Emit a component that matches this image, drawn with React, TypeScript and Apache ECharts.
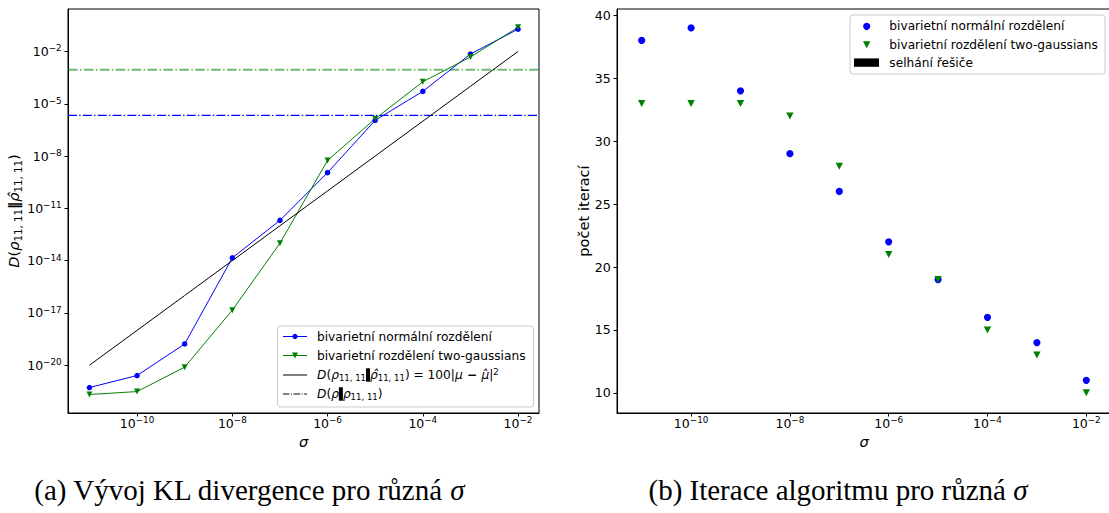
import React, { useEffect, useRef } from 'react';
import * as echarts from 'echarts';

// ---------- data ----------
const sigma = [1e-11, 1e-10, 1e-9, 1e-8, 1e-7, 1e-6, 1e-5, 1e-4, 1e-3, 1e-2];
const klNormal = [5.25e-22, 2.57e-21, 1.66e-19, 1.45e-14, 2.04e-12, 1.12e-9, 1.12e-6, 5.13e-5, 7.08e-3, 0.19];
const klTwoGauss = [2.09e-22, 3.09e-22, 7.76e-21, 1.45e-17, 1.0e-13, 5.62e-9, 1.38e-6, 1.82e-4, 4.79e-3, 0.245];
const klBound = [1e-20, 1e-18, 1e-16, 1e-14, 1e-12, 1e-10, 1e-8, 1e-6, 1e-4, 1e-2];
const klRefNormal = 2.14e-6;
const klRefTwoGauss = 8.9e-4;
const iterNormal = [38, 39, 34, 29, 26, 22, 19, 16, 14, 11];
const iterTwoGauss = [33, 33, 33, 32, 28, 21, 19, 15, 13, 10];
const sigmaTicks = [1e-10, 1e-8, 1e-6, 1e-4, 1e-2];
const klTicks = [1e-20, 1e-17, 1e-14, 1e-11, 1e-8, 1e-5, 1e-2];
const iterTicks = [10, 15, 20, 25, 30, 35, 40];

// axis limits
const sigmaMinA = Math.pow(10, -11.45);
const sigmaMaxA = Math.pow(10, -1.56);
const klMin = Math.pow(10, -22.74);
const klMax = Math.pow(10, 0.436);
const sigmaMinB = Math.pow(10, -11.5);
const sigmaMaxB = Math.pow(10, -1.5);
const iterMin = 8.4;
const iterMax = 40.5;

const nameNormal = 'bivarietní normální rozdělení';
const nameTwoGauss = 'bivarietní rozdělení two-gaussians';
const nameFail = 'selhání řešiče';

const FF = "'DejaVu Sans', sans-serif";
const SERIF = "'Liberation Serif', serif";
const BLUE = '#0000ff';
const GREEN = '#008000';

function powLabel(v: number): string {
  const e = Math.round(Math.log10(v));
  return `{b|10}{s|${e < 0 ? '\u2212' : ''}${Math.abs(e)}}`;
}

const tickRich = {
  b: { fontFamily: FF, fontSize: 12.5, lineHeight: 15, color: '#000' },
  s: { fontFamily: FF, fontSize: 8.8, lineHeight: 8, verticalAlign: 'top', color: '#000' },
};

function mathRich(base: number, key: 'color' | 'fill') {
  const c = { [key]: '#000' } as any;
  return {
    i: { fontFamily: FF, fontStyle: 'italic', fontSize: base, lineHeight: base * 1.3, ...c },
    n: { fontFamily: FF, fontSize: base, lineHeight: base * 1.3, ...c },
    sub: { fontFamily: FF, fontSize: base * 0.7, lineHeight: base * 0.7, verticalAlign: 'bottom', ...c },
    sup: { fontFamily: FF, fontSize: base * 0.7, lineHeight: base * 0.7, verticalAlign: 'top', ...c },
    blk: { fontFamily: FF, fontSize: base, lineHeight: base * 1.3, fontWeight: 'bold', ...c },
    box: { width: 4, height: base * 1.1, backgroundColor: '#000', fontSize: 1, lineHeight: base * 1.1, padding: [0, 0, 0, 0] },
  };
}

function legendText(text: string, x: number, y: number, rich?: any) {
  return {
    type: 'text',
    z: 101,
    style: {
      text, x, y,
      align: 'left', verticalAlign: 'middle', textAlign: 'left', textVerticalAlign: 'middle',
      fontFamily: FF, fontSize: 12.2, fill: '#000',
      rich,
    },
  };
}

function buildOption(): any {
  const axisLine = { show: true, onZero: false, lineStyle: { color: '#000', width: 1 } };
  const tick = (vals: number[]) => ({ show: true, length: 3.5, customValues: vals, lineStyle: { color: '#000', width: 1 } });

  const legendRich = mathRich(12.2, 'fill');

  const graphics: any[] = [
    // left legend
    { type: 'rect', z: 100, shape: { x: 277.5, y: 326, width: 256, height: 81, r: 3 }, style: { fill: 'rgba(255,255,255,0.8)', stroke: '#cccccc', lineWidth: 1 } },
    { type: 'line', z: 101, shape: { x1: 283, y1: 336.5, x2: 307, y2: 336.5 }, style: { stroke: BLUE, lineWidth: 1 } },
    { type: 'circle', z: 102, shape: { cx: 295, cy: 336.5, r: 2.6 }, style: { fill: BLUE } },
    legendText(nameNormal, 317, 336.5),
    { type: 'line', z: 101, shape: { x1: 283, y1: 355.5, x2: 307, y2: 355.5 }, style: { stroke: GREEN, lineWidth: 1 } },
    { type: 'polygon', z: 102, shape: { points: [[292, 352.5], [298, 352.5], [295, 358.5]] }, style: { fill: GREEN } },
    legendText(nameTwoGauss, 317, 355.5),
    { type: 'line', z: 101, shape: { x1: 283, y1: 375, x2: 307, y2: 375 }, style: { stroke: '#000', lineWidth: 1 } },
    legendText('{i|D}{n|(}{i|ρ}{sub|11, 11}{box| }{i|ρ̂}{sub|11, 11}{n|) = 100|}{i|μ}{blk| − }{i|μ̂}{n||}{sup|2}', 317, 375, legendRich),
    { type: 'line', z: 101, shape: { x1: 283, y1: 394, x2: 307, y2: 394 }, style: { stroke: '#000', lineWidth: 1, lineDash: [6.4, 1.6, 1, 1.6] } },
    legendText('{i|D}{n|(}{i|ρ}{box| }{i|ρ}{sub|11, 11}{n|)}', 317, 394, legendRich),

    // right legend
    { type: 'rect', z: 100, shape: { x: 850, y: 15, width: 255, height: 59, r: 3 }, style: { fill: 'rgba(255,255,255,0.8)', stroke: '#cccccc', lineWidth: 1 } },
    { type: 'circle', z: 102, shape: { cx: 866.7, cy: 26.3, r: 3.6 }, style: { fill: BLUE } },
    legendText(nameNormal, 889.3, 26.3),
    { type: 'polygon', z: 102, shape: { points: [[863, 41.2], [870.4, 41.2], [866.7, 48.2]] }, style: { fill: GREEN } },
    legendText(nameTwoGauss, 889.3, 44.7),
    { type: 'rect', z: 102, shape: { x: 854, y: 58.4, width: 25, height: 8.4 }, style: { fill: '#000' } },
    legendText(nameFail, 889.3, 62.7),

    // captions
    {
      type: 'text', z: 101,
      style: {
        text: '(a) Vývoj KL divergence pro různá {i|σ}', x: 249, y: 490,
        align: 'center', verticalAlign: 'middle', textAlign: 'center', textVerticalAlign: 'middle',
        fontFamily: SERIF, fontSize: 29, fill: '#000',
        rich: { i: { fontFamily: SERIF, fontSize: 29, fontStyle: 'italic', fill: '#000' } },
      },
    },
    {
      type: 'text', z: 101,
      style: {
        text: '(b) Iterace algoritmu pro různá {i|σ}', x: 838, y: 490,
        align: 'center', verticalAlign: 'middle', textAlign: 'center', textVerticalAlign: 'middle',
        fontFamily: SERIF, fontSize: 29, fill: '#000',
        rich: { i: { fontFamily: SERIF, fontSize: 29, fontStyle: 'italic', fill: '#000' } },
      },
    },
  ];

  const dashDot = (w: number) => [6.4 * w, 1.6 * w, 1 * w, 1.6 * w];

  return {
    animation: false,
    backgroundColor: '#ffffff',
    textStyle: { fontFamily: FF },
    grid: [
      { left: 68, top: 9, width: 471, height: 404, show: true, borderColor: '#000', borderWidth: 1, backgroundColor: 'transparent', containLabel: false, outerBoundsMode: 'none' },
      { left: 617, top: 9, width: 494, height: 404, show: true, borderColor: '#000', borderWidth: 1, backgroundColor: 'transparent', containLabel: false, outerBoundsMode: 'none' },
    ],
    xAxis: [
      {
        type: 'log', logBase: 10, gridIndex: 0,
        min: sigmaMinA, max: sigmaMaxA,
        axisLine, axisTick: tick(sigmaTicks), minorTick: { show: false },
        axisLabel: { customValues: sigmaTicks, formatter: powLabel, rich: tickRich, margin: 2.5, hideOverlap: false },
        splitLine: { show: false },
        name: 'σ', nameLocation: 'middle', nameGap: 18,
        nameTextStyle: { fontFamily: FF, fontStyle: 'italic', fontSize: 14.6, color: '#000' },
      },
      {
        type: 'log', logBase: 10, gridIndex: 1,
        min: sigmaMinB, max: sigmaMaxB,
        axisLine, axisTick: tick(sigmaTicks), minorTick: { show: false },
        axisLabel: { customValues: sigmaTicks, formatter: powLabel, rich: tickRich, margin: 2.5, hideOverlap: false },
        splitLine: { show: false },
        name: 'σ', nameLocation: 'middle', nameGap: 18,
        nameTextStyle: { fontFamily: FF, fontStyle: 'italic', fontSize: 14.6, color: '#000' },
      },
    ],
    yAxis: [
      {
        type: 'log', logBase: 10, gridIndex: 0,
        min: klMin, max: klMax,
        axisLine, axisTick: tick(klTicks), minorTick: { show: false },
        axisLabel: { customValues: klTicks, formatter: powLabel, rich: tickRich, margin: 6.3, hideOverlap: false },
        splitLine: { show: false },
        name: '{i|D}{n|(}{i|ρ}{sub|11, 11}{blk|‖}{i|ρ̂}{sub|11, 11}{n|)}',
        nameLocation: 'middle', nameGap: 39.5, nameRotate: 90,
        nameTextStyle: { fontFamily: FF, fontSize: 14.6, color: '#000', rich: mathRich(14.6, 'color') },
      },
      {
        type: 'value', gridIndex: 1, min: iterMin, max: iterMax,
        axisLine, axisTick: tick(iterTicks),
        axisLabel: { customValues: iterTicks, fontFamily: FF, fontSize: 12.6, color: '#000', margin: 6.3, hideOverlap: false },
        splitLine: { show: false },
        name: 'počet iterací', nameLocation: 'middle', nameGap: 23.5, nameRotate: 90,
        nameTextStyle: { fontFamily: FF, fontSize: 14.6, color: '#000' },
      },
    ],
    graphic: { elements: graphics },
    series: [
      {
        name: 'ref two-gaussians', type: 'line', xAxisIndex: 0, yAxisIndex: 0,
        data: [[sigmaMinA, klRefTwoGauss], [sigmaMaxA, klRefTwoGauss]],
        symbol: 'none', showSymbol: false, silent: true, z: 1,
        lineStyle: { color: GREEN, width: 2, opacity: 0.55, type: dashDot(1.5) },
      },
      {
        name: 'ref normal', type: 'line', xAxisIndex: 0, yAxisIndex: 0,
        data: [[sigmaMinA, klRefNormal], [sigmaMaxA, klRefNormal]],
        symbol: 'none', showSymbol: false, silent: true, z: 1,
        lineStyle: { color: BLUE, width: 1.2, opacity: 1, type: dashDot(1.4) },
      },
      {
        name: nameNormal, type: 'line', xAxisIndex: 0, yAxisIndex: 0,
        data: sigma.map((s, i) => [s, klNormal[i]]),
        color: BLUE, symbol: 'circle', symbolSize: 5.5, showSymbol: true,
        lineStyle: { color: BLUE, width: 1 }, itemStyle: { color: BLUE },
      },
      {
        name: nameTwoGauss, type: 'line', xAxisIndex: 0, yAxisIndex: 0,
        data: sigma.map((s, i) => [s, klTwoGauss[i]]),
        color: GREEN, symbol: 'triangle', symbolRotate: 180, symbolSize: [6, 6], showSymbol: true,
        lineStyle: { color: GREEN, width: 1 }, itemStyle: { color: GREEN },
      },
      {
        name: 'bound', type: 'line', xAxisIndex: 0, yAxisIndex: 0,
        data: sigma.map((s, i) => [s, klBound[i]]),
        color: '#000', symbol: 'none', showSymbol: false,
        lineStyle: { color: '#000', width: 1 },
      },
      {
        name: nameNormal + ' (iterace)', type: 'scatter', xAxisIndex: 1, yAxisIndex: 1,
        data: sigma.map((s, i) => [s, iterNormal[i]]),
        symbol: 'circle', symbolSize: 7.2, itemStyle: { color: BLUE, opacity: 1 },
      },
      {
        name: nameTwoGauss + ' (iterace)', type: 'scatter', xAxisIndex: 1, yAxisIndex: 1,
        data: sigma.map((s, i) => [s, iterTwoGauss[i]]),
        symbol: 'triangle', symbolRotate: 180, symbolSize: [7.4, 7], itemStyle: { color: GREEN, opacity: 1 },
      },
    ],
  };
}

export default function App() {
  const ref = useRef<HTMLDivElement>(null);
  useEffect(() => {
    if (!ref.current) return;
    const chart = echarts.init(ref.current, undefined, { renderer: 'svg' });
    chart.setOption(buildOption());
    return () => chart.dispose();
  }, []);
  return (
    <div
      ref={ref}
      style={{ position: 'fixed', left: 0, top: 0, width: 1109, height: 513, background: '#fff' }}
    />
  );
}
